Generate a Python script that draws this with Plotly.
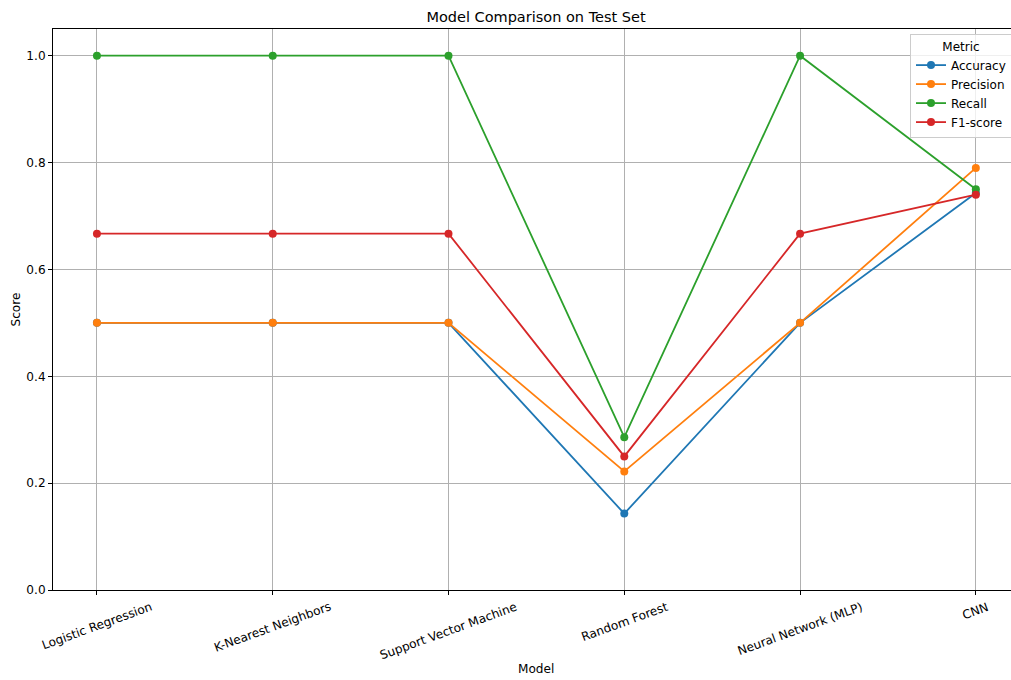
import plotly.graph_objects as go

# Scores of each model on the held-out test set
models = ["Logistic Regression", "K-Nearest Neighbors", "Support Vector Machine",
          "Random Forest", "Neural Network (MLP)", "CNN"]
accuracy = [0.5, 0.5, 0.5, 0.143, 0.5, 0.743]
precision = [0.5, 0.5, 0.5, 0.222, 0.5, 0.79]
recall = [1.0, 1.0, 1.0, 0.286, 1.0, 0.75]
f1_score = [0.667, 0.667, 0.667, 0.25, 0.667, 0.74]
y_ticks = [0.0, 0.2, 0.4, 0.6, 0.8, 1.0]

series = [
    ("Accuracy", accuracy, "#1f77b4"),
    ("Precision", precision, "#ff7f0e"),
    ("Recall", recall, "#2ca02c"),
    ("F1-score", f1_score, "#d62728"),
]

FONT = "DejaVu Sans, Verdana, sans-serif"
FS = 12.1
W, H = 1011, 680
L, R, T, B = 53, 0, 29, 90
PW, PH = W - L - R, H - T - B

fig = go.Figure()
x_idx = list(range(len(models)))
for name, vals, color in series:
    fig.add_trace(go.Scatter(
        x=x_idx, y=vals, name=name, mode="lines+markers",
        line=dict(color=color, width=1.8),
        marker=dict(color=color, size=8),
    ))

axis_common = dict(
    showgrid=True, gridcolor="#b0b0b0", gridwidth=1,
    showline=True, linecolor="#000000", linewidth=1,
    ticks="outside", ticklen=4, tickcolor="#000000", tickwidth=1,
    zeroline=False,
    tickfont=dict(family=FONT, size=FS, color="#000000"),
)

fig.update_layout(
    width=W, height=H,
    margin=dict(l=L, r=R, t=T, b=B, autoexpand=False),
    paper_bgcolor="white", plot_bgcolor="white",
    font=dict(family=FONT, size=FS, color="#000000"),
    title=dict(text="Model Comparison on Test Set", x=536 / W, xanchor="center",
               xref="container", y=1 - 17 / H, yanchor="middle", yref="container",
               font=dict(family=FONT, size=14.5, color="#000000")),
    xaxis=dict(range=[-0.25, 5.2], tickvals=x_idx, showticklabels=False,
               mirror=True, **axis_common),
    yaxis=dict(range=[0, 1.05], tickvals=y_ticks, tickformat=".1f", **axis_common),
    legend=dict(
        x=(910 - L) / PW, xanchor="left",
        y=(H - B - 34) / PH, yanchor="top",
        bgcolor="rgba(255,255,255,0.8)", bordercolor="#cccccc", borderwidth=1,
        font=dict(family=FONT, size=12, color="#000000"),
        title=dict(text="Metric", side="top center",
                   font=dict(family=FONT, size=12, color="#000000")),
        tracegroupgap=0, itemwidth=30,
    ),
    showlegend=True,
)

# Rotated category labels centred under each tick
for i, m in enumerate(models):
    fig.add_annotation(x=i, xref="x", y=0, yref="paper", yshift=-7,
                       text=m, showarrow=False, textangle=-20,
                       xanchor="center", yanchor="top",
                       font=dict(family=FONT, size=FS, color="#000000"))

# Axis titles
fig.add_annotation(x=(536 - L) / PW, xref="paper", y=(H - B - 669) / PH, yref="paper",
                   text="Model", showarrow=False, xanchor="center", yanchor="middle",
                   font=dict(family=FONT, size=FS, color="#000000"))
fig.add_annotation(x=(15 - L) / PW, xref="paper", y=0.5, yref="paper", text="Score",
                   showarrow=False, textangle=-90, xanchor="center", yanchor="middle",
                   font=dict(family=FONT, size=FS, color="#000000"))

fig.write_html("out.html")
